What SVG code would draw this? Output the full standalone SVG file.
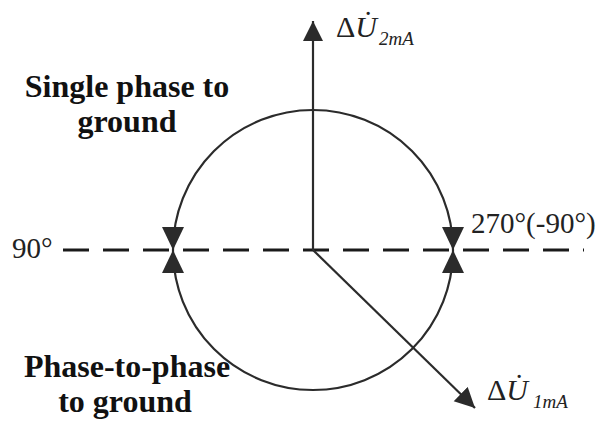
<svg xmlns="http://www.w3.org/2000/svg" width="614" height="423" viewBox="0 0 614 423">
<style>
.ln{stroke:#2b2b2b;stroke-width:2.2;fill:none}
.dash{stroke:#1a1a1a;stroke-width:3;stroke-dasharray:26 14;fill:none}
.hd{fill:#2b2b2b}
.lbl{font-family:"Liberation Serif","Times New Roman",serif;font-weight:bold;font-size:32px;fill:#111;text-anchor:middle}
.ang{font-family:"Liberation Serif","Times New Roman",serif;font-size:29px;fill:#222}
.vec{font-family:"Liberation Serif","DejaVu Serif",serif;font-size:30px;fill:#222}
.sub{font-size:19px;font-style:italic}
</style>
<defs>
<marker id="arr" markerUnits="userSpaceOnUse" markerWidth="22" markerHeight="22" refX="20" refY="10" orient="auto">
<path d="M0,0 L20,10 L0,20 Z" fill="#2b2b2b"/>
</marker>
<path id="tri" d="M0,0 L-11,-23 L11,-23 Z"/>
</defs>
<g id="axis">
<line class="dash" x1="63" y1="250" x2="584" y2="250"/>
</g>
<g id="circle">
<circle class="ln" cx="313" cy="250" r="140"/>
<use href="#tri" class="hd" transform="translate(173,250)"/>
<use href="#tri" class="hd" transform="translate(173,250) rotate(180)"/>
<use href="#tri" class="hd" transform="translate(453,250)"/>
<use href="#tri" class="hd" transform="translate(453,250) rotate(180)"/>
</g>
<g id="connectors">
<line class="ln" x1="313" y1="250" x2="313" y2="21" stroke-width="2.5" marker-end="url(#arr)"/>
<line class="ln" x1="313" y1="250" x2="475" y2="408" stroke-width="2.5" marker-end="url(#arr)"/>
</g>
<g id="label-u2">
<text class="vec" x="336" y="37">Δ<tspan font-style="italic">U̇</tspan><tspan class="sub" dx="2" dy="8">2mA</tspan></text>
</g>
<g id="label-u1">
<text class="vec" x="487" y="400">Δ<tspan font-style="italic">U̇</tspan><tspan class="sub" dx="5" dy="8">1mA</tspan></text>
</g>
<g id="label-90">
<text class="ang" x="12" y="258">90°</text>
</g>
<g id="label-270">
<text class="ang" x="471" y="233">270°(-90°)</text>
</g>
<g id="label-single">
<text class="lbl" x="127" y="97">Single phase to</text>
<text class="lbl" x="127" y="132">ground</text>
</g>
<g id="label-p2p">
<text class="lbl" x="127" y="377">Phase-to-phase</text>
<text class="lbl" x="125" y="412">to ground</text>
</g>
</svg>
